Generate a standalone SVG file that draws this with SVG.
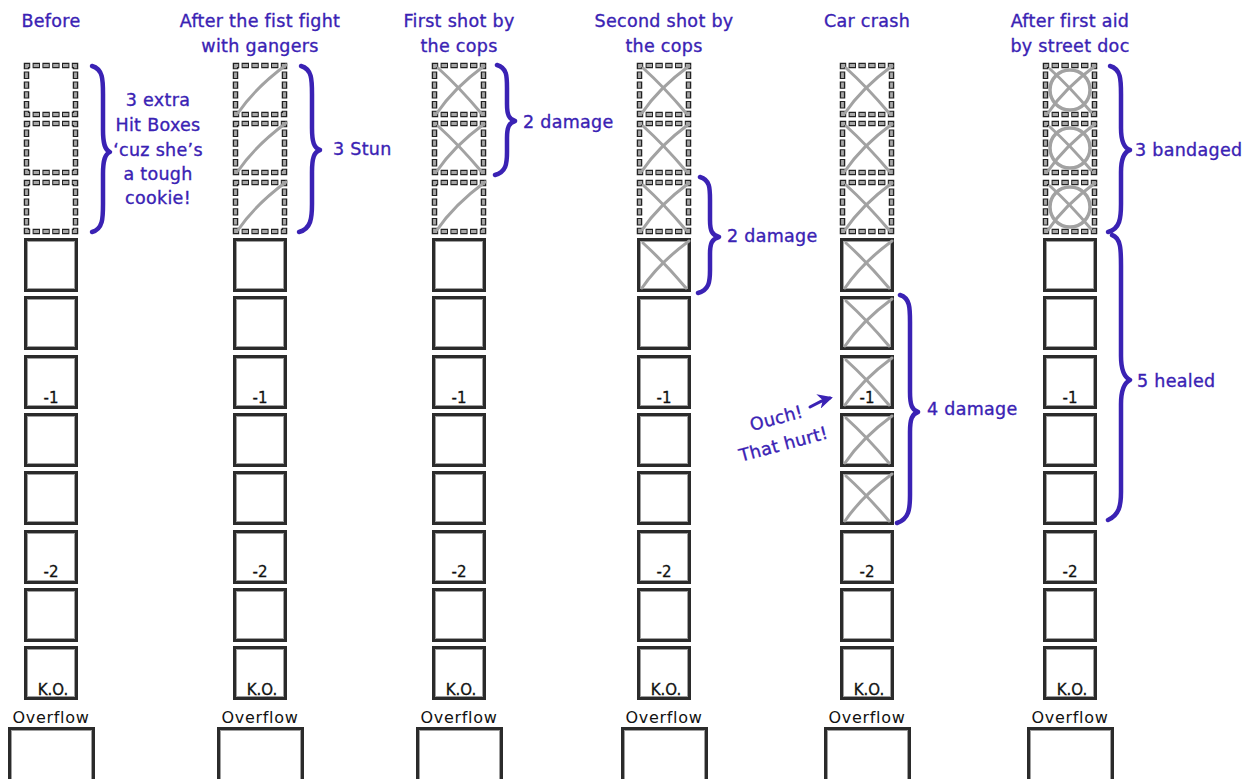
<svg xmlns="http://www.w3.org/2000/svg" width="1245" height="779" viewBox="0 0 1245 779">
<style>
.t{font-family:"DejaVu Sans","Liberation Sans",sans-serif;font-size:17.5px;fill:#3a22b4;stroke:#3a22b4;stroke-width:0.35px;letter-spacing:0.3px}
.tm{text-anchor:middle}
.s{font-family:"DejaVu Sans","Liberation Sans",sans-serif;font-size:15px;fill:#111;stroke:#111;stroke-width:0.3px;text-anchor:middle}
.ov{font-family:"DejaVu Sans","Liberation Sans",sans-serif;font-size:16px;fill:#111;text-anchor:middle;letter-spacing:0.7px}
.br{fill:none;stroke:#3a22b4;stroke-width:4.5;stroke-linecap:round;stroke-linejoin:round}
.mk{fill:none;stroke:#a2a2a2;stroke-width:3;stroke-linecap:round}
</style>
<defs>
<g id="sb">
<rect x="1.5" y="1.5" width="51" height="51" fill="#fff" stroke="#2b2b2b" stroke-width="3"/>
<rect x="3.5" y="3.5" width="47" height="47" fill="none" stroke="#a0a0a0" stroke-width="1"/>
</g>
<g id="db">
<rect x="0" y="0" width="54" height="54" fill="#fff"/>
<path d="M27,2.5 H51.5 V51.5 H2.5 V2.5 Z" fill="none" stroke="#222" stroke-width="5.5" stroke-dasharray="7.4 2.4" stroke-dashoffset="-1.2"/>
<path d="M27,2.5 H51.5 V51.5 H2.5 V2.5 Z" fill="none" stroke="#a8a8a8" stroke-width="2.8" stroke-dasharray="5.4 4.4" stroke-dashoffset="-2.2"/>
</g>
<g id="ob">
<rect x="1.5" y="1.5" width="84" height="60" fill="#fff" stroke="#2b2b2b" stroke-width="3"/>
<rect x="3.5" y="3.5" width="80" height="56" fill="none" stroke="#a0a0a0" stroke-width="1"/>
</g>
<path id="sl" class="mk" d="M5,50 Q22,25 53,2"/>
<g id="x">
<path class="mk" d="M5,50 Q22,25 52,3"/>
<path class="mk" d="M6,5 Q27,24 49,50"/>
</g>
<g id="cx">
<circle cx="27" cy="27" r="20" fill="none" stroke="#a2a2a2" stroke-width="3.5"/>
<path class="mk" d="M5,50 Q22,25 52,3"/>
<path class="mk" d="M7,6 Q27,24 48,49"/>
</g>
<marker id="ah" viewBox="0 0 10 10" refX="8" refY="5" markerWidth="5" markerHeight="5" orient="auto">
<path d="M0,0 L10,5 L0,10 L3,5 Z" fill="#3a22b4"/>
</marker>
</defs>

<rect width="1245" height="779" fill="#fff"/>

<g id="titles">
<text class="t tm" x="51" y="27">Before</text>
<text class="t tm" x="260" y="27">After the fist fight</text>
<text class="t tm" x="260" y="52">with gangers</text>
<text class="t tm" x="459" y="27">First shot by</text>
<text class="t tm" x="459" y="52">the cops</text>
<text class="t tm" x="664" y="27">Second shot by</text>
<text class="t tm" x="664" y="52">the cops</text>
<text class="t tm" x="867" y="27">Car crash</text>
<text class="t tm" x="1070" y="27">After first aid</text>
<text class="t tm" x="1070" y="52">by street doc</text>
</g>

<g id="col1">
<use href="#db" x="24" y="63"/><use href="#db" x="24" y="121"/><use href="#db" x="24" y="180"/>
<use href="#sb" x="24" y="238"/><use href="#sb" x="24" y="296"/><use href="#sb" x="24" y="355"/>
<use href="#sb" x="24" y="413"/><use href="#sb" x="24" y="471"/><use href="#sb" x="24" y="530"/>
<use href="#sb" x="24" y="588"/><use href="#sb" x="24" y="646"/>
<text class="s" x="51" y="403">-1</text><text class="s" x="51" y="577">-2</text><text class="s" x="53" y="695">K.O.</text>
<text class="ov" x="51" y="723">Overflow</text><use href="#ob" x="8" y="727"/>
</g>

<g id="col2">
<use href="#db" x="233" y="63"/><use href="#db" x="233" y="121"/><use href="#db" x="233" y="180"/>
<use href="#sl" x="233" y="63"/><use href="#sl" x="233" y="121"/><use href="#sl" x="233" y="180"/>
<use href="#sb" x="233" y="238"/><use href="#sb" x="233" y="296"/><use href="#sb" x="233" y="355"/>
<use href="#sb" x="233" y="413"/><use href="#sb" x="233" y="471"/><use href="#sb" x="233" y="530"/>
<use href="#sb" x="233" y="588"/><use href="#sb" x="233" y="646"/>
<text class="s" x="260" y="403">-1</text><text class="s" x="260" y="577">-2</text><text class="s" x="262" y="695">K.O.</text>
<text class="ov" x="260" y="723">Overflow</text><use href="#ob" x="217" y="727"/>
</g>

<g id="col3">
<use href="#db" x="432" y="63"/><use href="#db" x="432" y="121"/><use href="#db" x="432" y="180"/>
<use href="#x" x="432" y="63"/><use href="#x" x="432" y="121"/><use href="#sl" x="432" y="180"/>
<use href="#sb" x="432" y="238"/><use href="#sb" x="432" y="296"/><use href="#sb" x="432" y="355"/>
<use href="#sb" x="432" y="413"/><use href="#sb" x="432" y="471"/><use href="#sb" x="432" y="530"/>
<use href="#sb" x="432" y="588"/><use href="#sb" x="432" y="646"/>
<text class="s" x="459" y="403">-1</text><text class="s" x="459" y="577">-2</text><text class="s" x="461" y="695">K.O.</text>
<text class="ov" x="459" y="723">Overflow</text><use href="#ob" x="416" y="727"/>
</g>

<g id="col4">
<use href="#db" x="637" y="63"/><use href="#db" x="637" y="121"/><use href="#db" x="637" y="180"/>
<use href="#sb" x="637" y="238"/>
<use href="#x" x="637" y="63"/><use href="#x" x="637" y="121"/><use href="#x" x="637" y="180"/><use href="#x" x="637" y="238"/>
<use href="#sb" x="637" y="296"/><use href="#sb" x="637" y="355"/>
<use href="#sb" x="637" y="413"/><use href="#sb" x="637" y="471"/><use href="#sb" x="637" y="530"/>
<use href="#sb" x="637" y="588"/><use href="#sb" x="637" y="646"/>
<text class="s" x="664" y="403">-1</text><text class="s" x="664" y="577">-2</text><text class="s" x="666" y="695">K.O.</text>
<text class="ov" x="664" y="723">Overflow</text><use href="#ob" x="621" y="727"/>
</g>

<g id="col5">
<use href="#db" x="840" y="63"/><use href="#db" x="840" y="121"/><use href="#db" x="840" y="180"/>
<use href="#sb" x="840" y="238"/><use href="#sb" x="840" y="296"/><use href="#sb" x="840" y="355"/>
<use href="#sb" x="840" y="413"/><use href="#sb" x="840" y="471"/>
<text class="s" x="867" y="403">-1</text>
<use href="#x" x="840" y="63"/><use href="#x" x="840" y="121"/><use href="#x" x="840" y="180"/><use href="#x" x="840" y="238"/>
<use href="#x" x="840" y="296"/><use href="#x" x="840" y="355"/><use href="#x" x="840" y="413"/><use href="#x" x="840" y="471"/>
<use href="#sb" x="840" y="530"/><use href="#sb" x="840" y="588"/><use href="#sb" x="840" y="646"/>
<text class="s" x="867" y="577">-2</text><text class="s" x="869" y="695">K.O.</text>
<text class="ov" x="867" y="723">Overflow</text><use href="#ob" x="824" y="727"/>
</g>

<g id="col6">
<use href="#db" x="1043" y="63"/><use href="#db" x="1043" y="121"/><use href="#db" x="1043" y="180"/>
<use href="#cx" x="1043" y="63"/><use href="#cx" x="1043" y="121"/><use href="#cx" x="1043" y="180"/>
<use href="#sb" x="1043" y="238"/><use href="#sb" x="1043" y="296"/><use href="#sb" x="1043" y="355"/>
<use href="#sb" x="1043" y="413"/><use href="#sb" x="1043" y="471"/><use href="#sb" x="1043" y="530"/>
<use href="#sb" x="1043" y="588"/><use href="#sb" x="1043" y="646"/>
<text class="s" x="1070" y="403">-1</text><text class="s" x="1070" y="577">-2</text><text class="s" x="1072" y="695">K.O.</text>
<text class="ov" x="1070" y="723">Overflow</text><use href="#ob" x="1027" y="727"/>
</g>

<g id="connectors">
<path class="br" d="M92,66 C103,69 103,80 103,94 L103,130 C103,144 105,150 110,152 C105,154 103,160 103,174 L103,204 C103,218 103,229 92,232"/>
<path class="br" d="M301,66 C312,69 312,80 312,94 L312,128 C312,142 314,148 320,150 C314,152 312,158 312,172 L312,204 C312,218 311,229 299,232"/>
<path class="br" d="M497,65 C507,68 507,76 507,88 L507,104 C507,115 509,119 515,121 C509,123 507,127 507,138 L507,152 C507,164 506,172 495,175"/>
<path class="br" d="M700,177 C710,180 710,188 710,200 L710,220 C710,231 712,235 719,237 C712,239 710,243 710,254 L710,270 C710,282 709,290 698,293"/>
<path class="br" d="M900,295 C910,298 910,308 910,322 L910,392 C910,405 912,410 918,412 C912,414 910,419 910,432 L910,495 C910,509 909,519 897,523"/>
<path class="br" d="M1110,66 C1121,69 1121,80 1121,94 L1121,128 C1121,142 1124,148 1130,150 C1124,152 1121,158 1121,172 L1121,204 C1121,218 1120,229 1108,232"/>
<path class="br" d="M1112,235 C1121,238 1121,250 1121,266 L1121,356 C1121,370 1124,377 1130,380 C1124,383 1121,390 1121,404 L1121,492 C1121,506 1119,515 1108,520"/>
<path d="M810,407 Q820,401 830,398" fill="none" stroke="#3a22b4" stroke-width="3" stroke-linecap="round" marker-end="url(#ah)"/>
</g>

<g id="notes">
<text class="t tm" x="158" y="106">3 extra</text>
<text class="t tm" x="158" y="131">Hit Boxes</text>
<text class="t tm" x="158" y="156">‘cuz she’s</text>
<text class="t tm" x="158" y="180">a tough</text>
<text class="t tm" x="158" y="204">cookie!</text>
<text class="t" x="333" y="155">3 Stun</text>
<text class="t" x="523" y="128">2 damage</text>
<text class="t" x="727" y="242">2 damage</text>
<text class="t" x="927" y="415">4 damage</text>
<text class="t" x="1135" y="156">3 bandaged</text>
<text class="t" x="1137" y="387">5 healed</text>
<text class="t tm" transform="translate(778,424) rotate(-15)">Ouch!</text>
<text class="t tm" transform="translate(785,450) rotate(-15)">That hurt!</text>
</g>
</svg>
